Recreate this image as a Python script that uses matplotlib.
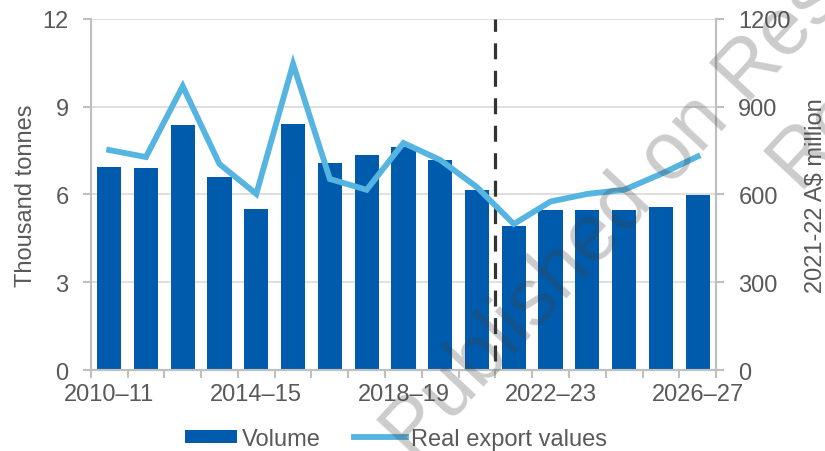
import numpy as np
import matplotlib
matplotlib.use('Agg')
import matplotlib.pyplot as plt
from matplotlib.ticker import FixedLocator

plt.rcParams['font.family'] = ['Liberation Sans', 'DejaVu Sans']

# Data
years = ['2010–11', '2011–12', '2012–13', '2013–14', '2014–15', '2015–16',
         '2016–17', '2017–18', '2018–19', '2019–20', '2020–21', '2021–22',
         '2022–23', '2023–24', '2024–25', '2025–26', '2026–27']
volume = [6.95, 6.91, 8.39, 6.59, 5.52, 8.42, 7.08, 7.35, 7.62, 7.19, 6.16,
          4.93, 5.47, 5.47, 5.47, 5.57, 5.98]          # thousand tonnes
export_value = [752, 728, 970, 704, 602, 1046, 653, 616, 776, 718, 625,
                499, 576, 602, 616, 670, 730]          # 2021-22 A$ million
label_years = ['2010–11', '2014–15', '2018–19', '2022–23', '2026–27']
forecast_start = '2021–22'

bar_col = '#005BAC'
line_col = '#56B4E0'
txt_col = '#595959'
axis_col = '#BFBFBF'

fig = plt.figure(figsize=(8.25, 4.52), dpi=100)
ax = fig.add_axes([0.110, 0.179, 0.758, 0.777])
ax2 = ax.twinx()

x = np.arange(len(years))
ax.bar(x, volume, width=0.66, color=bar_col, zorder=2, label='Volume')
ax2.plot(x, export_value, color=line_col, lw=4.2, solid_joinstyle='miter',
         zorder=3, label='Real export values')

ax.set_xlim(-0.5, len(years) - 0.5)
ax.set_ylim(0, 12)
ax.set_yticks([0, 3, 6, 9, 12])
ax2.set_ylim(0, 1200)
ax2.set_yticks([0, 300, 600, 900, 1200])

# dashed line where the forecast starts
xf = years.index(forecast_start) - 0.5
ax.plot([xf, xf], [0.3, 12], color='#333333', lw=2.3, dashes=(5, 3.6), zorder=4)

ax.grid(axis='y', color='#D9D9D9', lw=1.2, zorder=0)
ax.set_axisbelow(True)

ax.set_xticks([years.index(y) for y in label_years])
ax.set_xticklabels(label_years)
ax.xaxis.set_minor_locator(FixedLocator(np.arange(-0.5, len(years), 1.0)))
ax.tick_params(axis='x', which='major', length=0, pad=9, labelsize=17, labelcolor=txt_col)
ax.tick_params(axis='x', which='minor', length=6, width=1.5, color=axis_col)
ax.tick_params(axis='y', length=6, width=1.5, color=axis_col, pad=10,
               labelsize=17, labelcolor=txt_col)
ax2.tick_params(axis='y', length=6, width=1.5, color=axis_col, pad=10,
                labelsize=17, labelcolor=txt_col)

for a in (ax, ax2):
    a.spines['top'].set_visible(False)
    for s in ('left', 'right', 'bottom'):
        a.spines[s].set_color(axis_col)
        a.spines[s].set_linewidth(1.5)

ax.set_ylabel('Thousand tonnes', fontsize=17, color=txt_col, labelpad=4)
ax2.set_ylabel('2021-22 A$ million', fontsize=17, color=txt_col, labelpad=10)

h1, l1 = ax.get_legend_handles_labels()
h2, l2 = ax2.get_legend_handles_labels()
fig.legend(h1 + h2, l1 + l2, loc='center', bbox_to_anchor=(0.48, 0.027),
           ncol=2, frameon=False, fontsize=17, labelcolor=txt_col,
           handlelength=2.2, handleheight=0.5, handletextpad=0.2,
           columnspacing=1.4, borderpad=0)

# watermark
wm = dict(rotation=47, rotation_mode='anchor', ha='left', va='baseline',
          fontsize=58, color='#404040', alpha=0.27, zorder=10)
fig.text(413 / 825, 1 - 462 / 452, 'Published on Res', **wm)
fig.text(798 / 825, 1 - 189 / 452, 'Re', **wm)

fig.savefig('out.png', dpi=100)
